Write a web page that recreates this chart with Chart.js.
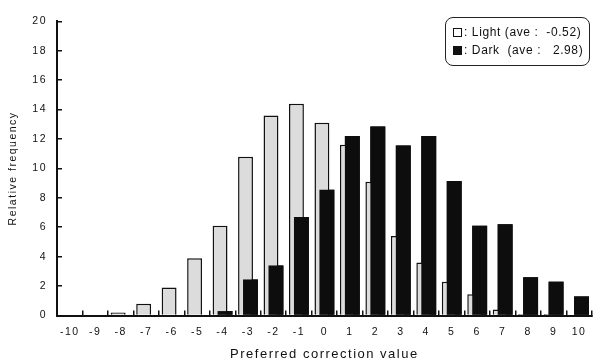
<!DOCTYPE html>
<html>
<head>
<meta charset="utf-8">
<script src="https://cdn.jsdelivr.net/npm/chart.js@4/dist/chart.umd.min.js"></script>
<style>
  html, body { margin: 0; padding: 0; background: #fff; overflow: hidden; }
  #wrap { position: absolute; left: 0; top: 0; width: 600px; height: 362px; }
  #legend {
    position: absolute; left: 445px; top: 17px; width: 145px; height: 49px;
    border: 1.5px solid #222; border-radius: 8px; box-sizing: border-box;
    font-family: "Liberation Sans", Arial, sans-serif; font-size: 12px; color: #111;
    letter-spacing: 0.6px; white-space: pre; padding: 5px 0 0 7px; line-height: 18px;
  }
  .sq { display: inline-block; width: 9px; height: 9px; box-sizing: border-box; border: 1.5px solid #111; vertical-align: -1px; margin-right: 2px; }
  .sq.dark { background: #111; }
</style>
</head>
<body>
<div id="wrap"><canvas id="chart"></canvas></div>
<div id="legend"><span class="sq"></span>: Light (ave :  -0.52)
<span class="sq dark"></span>: Dark  (ave :   2.98)</div>
<script>
const categories = ["-10", "-9", "-8", "-7", "-6", "-5", "-4", "-3", "-2", "-1", "0",
  "1", "2", "3", "4", "5", "6", "7", "8", "9", "10"];
const lightValues = [0.05, 0, 0.2, 0.8, 1.9, 3.9, 6.1, 10.8, 13.6, 14.4, 13.1,
  11.6, 9.1, 5.4, 3.6, 2.3, 1.45, 0.4, 0.1, 0.1, 0];
const darkValues = [0, 0, 0, 0, 0, 0, 0.3, 2.45, 3.4, 6.7, 8.55,
  12.2, 12.85, 11.55, 12.2, 9.15, 6.1, 6.2, 2.6, 2.3, 1.3];
const yMin = 0, yMax = 20, yStep = 2;

const ink = "#111";
const font = "'Liberation Sans', Arial, sans-serif";

// spaced-out lettering like the scanned figure, and dark bars on top of light ones
const figurePlugin = {
  id: "figure",
  beforeDraw(chart) { chart.ctx.letterSpacing = "1.5px"; },
  afterDatasetsDraw(chart) { chart.getDatasetMeta(1).controller.draw(); }
};

new Chart(document.getElementById("chart"), {
  type: "bar",
  data: {
    labels: categories,
    datasets: [{
      label: "Light",
      data: lightValues,
      backgroundColor: "#dcdcdc",
      borderColor: ink,
      borderWidth: 1.5,
      categoryPercentage: 0.39,
      barPercentage: 3.0
    }, {
      label: "Dark",
      data: darkValues,
      backgroundColor: "#0d0d0d",
      borderWidth: 0,
      categoryPercentage: 0.39,
      barPercentage: 3.0
    }]
  },
  options: {
    responsive: true,
    maintainAspectRatio: false,
    animation: false,
    layout: { padding: { top: 16, right: 4, left: 0, bottom: 0 } },
    plugins: { legend: { display: false }, tooltip: { enabled: false } },
    scales: {
      x: {
        grid: { drawOnChartArea: false, color: ink, lineWidth: 1.5, tickLength: -5 },
        border: { color: ink, width: 2 },
        ticks: { color: ink, font: { family: font, size: 10.5 }, padding: 15, maxRotation: 0, autoSkip: false },
        title: { display: true, text: "Preferred correction value", color: ink,
          font: { family: font, size: 13, lineHeight: 1.1 }, padding: { top: 0, bottom: 0 } },
        afterFit(scale) { scale.height = 46.5; }
      },
      y: {
        min: yMin, max: yMax,
        grid: { drawOnChartArea: false, color: ink, lineWidth: 1.5, tickLength: -5 },
        border: { color: ink, width: 2 },
        ticks: { stepSize: yStep, color: ink, font: { family: font, size: 10.5 }, padding: 15 },
        title: { display: true, text: "Relative frequency", color: ink,
          font: { family: font, size: 10.5, lineHeight: 1.2 }, padding: { top: 7, bottom: 0 } },
        afterFit(scale) { scale.width = 57; }
      }
    }
  },
  plugins: [figurePlugin]
});
</script>
</body>
</html>
